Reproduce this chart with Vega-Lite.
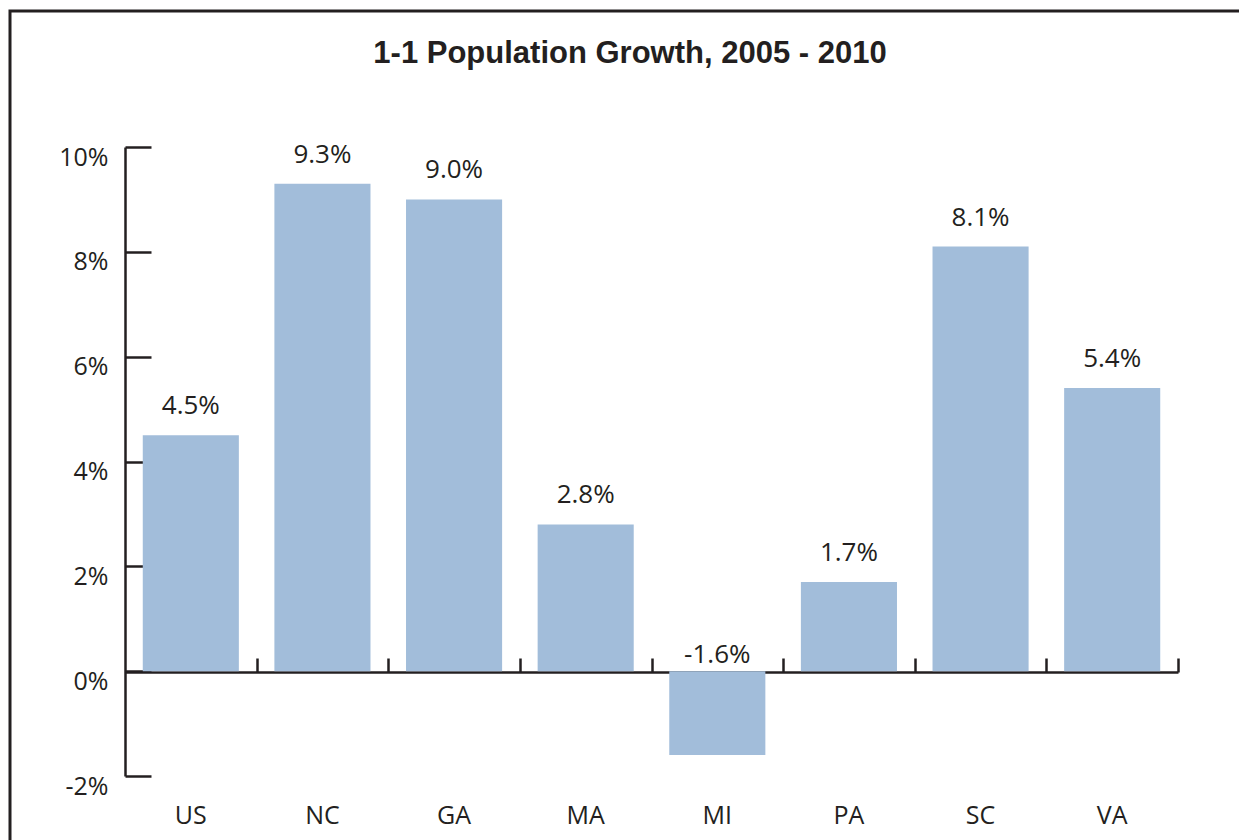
{
  "$schema": "https://vega.github.io/schema/vega-lite/v6.json",
  "autosize": {"type": "none"},
  "width": 1240,
  "height": 840,
  "padding": {"left": 10, "top": 11, "right": 0, "bottom": 0},
  "background": "#ffffff",
  "title": {
    "text": "1-1 Population Growth, 2005 - 2010",
    "font": "Liberation Sans",
    "fontSize": 31,
    "fontWeight": "bold",
    "color": "#231f20",
    "anchor": "middle",
    "frame": "group",
    "baseline": "alphabetic",
    "offset": -83
  },
  "config": {
    "view": {"stroke": "#231f20", "strokeWidth": 3},
    "text": {"font": "Open Sans", "fontSize": 26, "color": "#231f20"},
    "axis": {"labelFont": "Open Sans", "labelFontSize": 25, "labelColor": "#231f20", "grid": false, "title": null}
  },
  "data": {
    "values": [
      {"state": "US", "value": 4.5},
      {"state": "NC", "value": 9.3},
      {"state": "GA", "value": 9.0},
      {"state": "MA", "value": 2.8},
      {"state": "MI", "value": -1.6},
      {"state": "PA", "value": 1.7},
      {"state": "SC", "value": 8.1},
      {"state": "VA", "value": 5.4}
    ]
  },
  "transform": [
    {"calculate": "(datum.value < 0 ? '-' : '') + format(abs(datum.value), '.1f') + '%'", "as": "label"}
  ],
  "layer": [
    {
      "mark": {"type": "bar", "color": "#a2bdda"},
      "encoding": {
        "x": {
          "field": "state", "type": "nominal", "sort": null,
          "scale": {"range": [115, 1168], "paddingInner": 0.27, "paddingOuter": 0.135},
          "axis": {
            "orient": "top", "offset": -661, "labels": false,
            "domainColor": "#231f20", "domainWidth": 2.5,
            "tickColor": "#231f20", "tickWidth": 2.5, "tickSize": 14,
            "bandPosition": 1, "tickOffset": 17.8
          }
        },
        "y": {
          "field": "value", "type": "quantitative",
          "scale": {"domain": [-2, 10], "range": [765, 136], "nice": false, "zero": false},
          "axis": {
            "orient": "left", "offset": -115,
            "values": [-2, 0, 2, 4, 6, 8, 10],
            "labelExpr": "datum.value + '%'",
            "domainColor": "#231f20", "domainWidth": 2.5,
            "tickColor": "#231f20", "tickWidth": 2.5, "tickSize": -26,
            "labelPadding": 43, "labelBaseline": "top", "labelOffset": -2
          }
        }
      }
    },
    {
      "transform": [{"filter": "datum.value > 0"}],
      "mark": {"type": "text", "dy": -21, "baseline": "alphabetic"},
      "encoding": {
        "x": {
          "field": "state", "type": "nominal", "sort": null,
          "axis": {
            "orient": "bottom", "offset": -75, "domain": false, "ticks": false,
            "labelAngle": 0, "labelAlign": "center",
            "labelPadding": 27, "labelBaseline": "top"
          }
        },
        "y": {"field": "value", "type": "quantitative"},
        "text": {"field": "label"}
      }
    },
    {
      "transform": [{"filter": "datum.value < 0"}],
      "mark": {"type": "text", "dy": -8, "baseline": "alphabetic"},
      "encoding": {
        "x": {"field": "state", "type": "nominal", "sort": null, "axis": null},
        "y": {"datum": 0, "type": "quantitative"},
        "text": {"field": "label"}
      }
    }
  ],
  "resolve": {"axis": {"x": "independent"}}
}
